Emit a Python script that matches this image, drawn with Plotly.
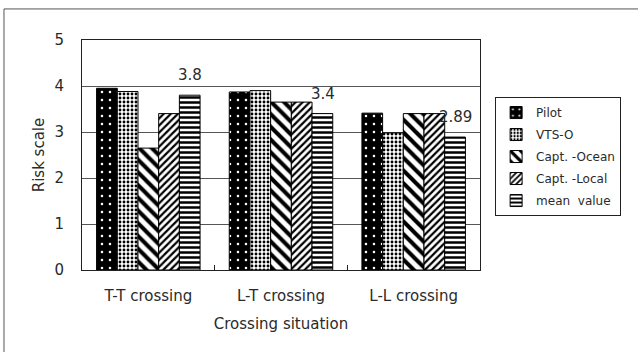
import plotly.graph_objects as go

# Crossing situations and risk scores per respondent group
situations = ["T-T crossing", "L-T crossing", "L-L crossing"]
pilot = [3.95, 3.87, 3.41]
vts_o = [3.88, 3.90, 2.98]
capt_ocean = [2.65, 3.65, 3.40]
capt_local = [3.40, 3.65, 3.40]
mean_value = [3.80, 3.40, 2.89]
y_ticks = [0, 1, 2, 3, 4, 5]

FONT = "DejaVu Sans"
TEXT = "#2a2a2a"

# name, values, pattern shape, fg, bg, size, solidity
series = [
    ("Pilot", pilot, ".", "white", "black", 8, 0.08),
    ("VTS-O", vts_o, ".", "black", "white", 4, 0.4),
    ("Capt. -Ocean", capt_ocean, "\\", "black", "white", 9, 0.45),
    ("Capt. -Local", capt_local, "/", "black", "white", 5, 0.45),
    ("mean  value", mean_value, "-", "black", "white", 5, 0.5),
]

fig = go.Figure()
for name, vals, shape, fg, bg, size, sol in series:
    fig.add_trace(go.Bar(
        name=name, x=situations, y=vals, legendgroup=name,
        marker=dict(
            color=bg,
            line=dict(color="black", width=1),
            pattern=dict(shape=shape, fgcolor=fg, bgcolor=bg,
                         size=size, solidity=sol, fillmode="replace"),
        ),
    ))

# value labels above the mean-value bars
for cat, v in zip(situations, mean_value):
    fig.add_annotation(
        x=cat, y=v, text=f"{v:g}", showarrow=False,
        xanchor="center", yanchor="bottom", xshift=42, yshift=9,
        font=dict(family=FONT, size=15, color=TEXT),
    )

# outer chart frame (left and top edges visible)
fig.add_shape(type="rect", xref="paper", yref="paper",
              x0=-0.196, x1=1.41, y0=-0.37, y1=1.135,
              line=dict(color="#555", width=1), fillcolor="rgba(0,0,0,0)",
              layer="below")

fig.update_layout(
    width=638, height=352,
    margin=dict(l=82, r=158, t=40, b=82),
    paper_bgcolor="white", plot_bgcolor="white",
    barmode="group", bargap=0.22, bargroupgap=0,
    font=dict(family=FONT, size=15, color=TEXT),
    showlegend=True,
    legend=dict(
        x=1.038, y=0.752, xanchor="left", yanchor="top",
        bordercolor="#222", borderwidth=1, bgcolor="white",
        font=dict(family=FONT, size=12, color=TEXT),
        traceorder="grouped", tracegroupgap=3, itemwidth=30,
    ),
    xaxis=dict(
        showline=True, linecolor="#222", linewidth=1, mirror=True,
        ticks="inside", tickson="boundaries", ticklen=5, tickcolor="#222",
        ticklabelstandoff=12,
        title=dict(text="Crossing situation", standoff=14,
                   font=dict(family=FONT, size=15)),
    ),
    yaxis=dict(
        range=[0, 5], tickvals=y_ticks, ticktext=[str(t) for t in y_ticks],
        showgrid=True, gridcolor="#555", gridwidth=1,
        showline=True, linecolor="#222", linewidth=1, mirror=True,
        ticks="", ticklabelstandoff=14, zeroline=False,
        title=dict(text="Risk scale", standoff=6,
                   font=dict(family=FONT, size=15)),
    ),
)

fig.write_html("out.html")
